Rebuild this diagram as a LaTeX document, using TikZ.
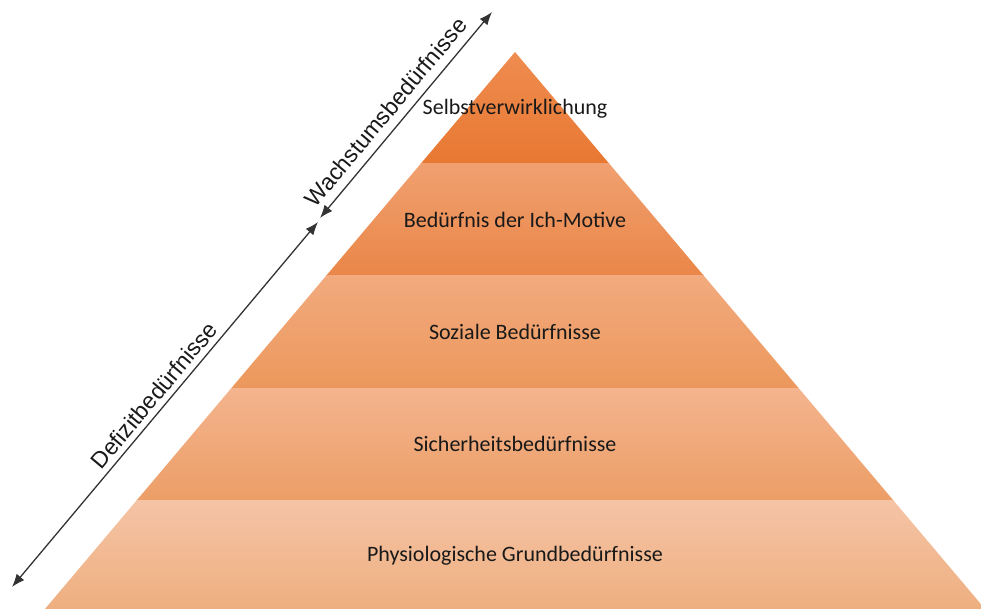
\documentclass[tikz,border=0pt]{standalone}
\usepackage{fontspec}
\setmainfont{Carlito}
\newfontfamily\arialfont{Liberation Sans}
\usetikzlibrary{arrows.meta}
\definecolor{sAa}{RGB}{239,140,80}
\definecolor{sAb}{RGB}{237,128,62}
\definecolor{sAc}{RGB}{232,120,50}
\definecolor{sBa}{RGB}{240,160,112}
\definecolor{sBb}{RGB}{240,143,80}
\definecolor{sBc}{RGB}{234,134,72}
\definecolor{sCa}{RGB}{242,170,126}
\definecolor{sCb}{RGB}{244,161,96}
\definecolor{sCc}{RGB}{236,152,92}
\definecolor{sDa}{RGB}{244,180,142}
\definecolor{sDb}{RGB}{245,170,108}
\definecolor{sDc}{RGB}{236,158,102}
\definecolor{sEa}{RGB}{245,196,166}
\definecolor{sEb}{RGB}{245,183,132}
\definecolor{sEc}{RGB}{238,174,126}

\begin{document}
\begin{tikzpicture}[x=1pt, y=-1pt, stufe/.style={font=\fontsize{22}{26}\selectfont, text=black!90},
    pfeil/.style={{Latex[length=13pt,width=10pt]}-{Latex[length=13pt,width=10pt]}, line width=1.3pt, black!80},
    seite/.style={font=\arialfont\fontsize{23}{27}\selectfont, text=black!90, sloped}]
\useasboundingbox (0,0) rectangle (981,609);
% Pyramide
\begin{scope}
\clip (515,52) -- (988.4,613) -- (41.6,613) -- cycle;
\foreach \t/\b/\n in {52/164/A, 164/276/B, 276/388/C, 388/500/D, 500/613/E}
    \shade[top color=s\n a, middle color=s\n b, bottom color=s\n c] (0,\t) rectangle (981,\b);
\end{scope}
\node[stufe] (selbst) at (515,109) {Selbstverwirklichung};
\node[stufe] (ich) at (515,220) {Bedürfnis der Ich-Motive};
\node[stufe] (sozial) at (515,332) {Soziale Bedürfnisse};
\node[stufe] (sicher) at (515,444) {Sicherheitsbedürfnisse};
\node[stufe] (physio) at (515,556) {Physiologische Grundbedürfnisse};
% Pfeile
\coordinate (wtop) at (492,12);
\coordinate (wbot) at (320,218);
\coordinate (dtop) at (318,222);
\coordinate (dbot) at (12,587);
\draw[pfeil] (wbot) -- (wtop) node[seite, pos=0.46, above=5pt] {Wachstumsbedürfnisse};
\draw[pfeil] (dbot) -- (dtop) node[seite, pos=0.5, above=2pt] {Defizitbedürfnisse};
\end{tikzpicture}
\end{document}
